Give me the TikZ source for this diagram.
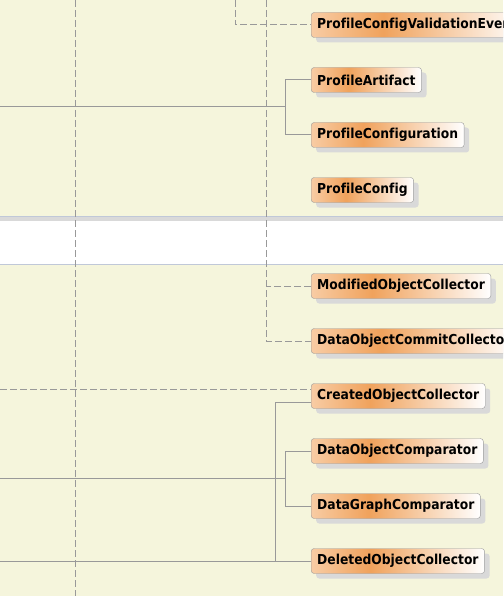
\documentclass[tikz,border=0pt]{standalone}
\usepackage{fontspec}
\setmainfont{DejaVu Sans Condensed}[Ligatures=NoCommon]
\usetikzlibrary{shadows}

\definecolor{paper}{RGB}{245,245,220}
\definecolor{rulecol}{RGB}{192,200,216}
\definecolor{linecol}{RGB}{153,153,153}
\definecolor{peach}{RGB}{248,204,164}
\definecolor{boxorange}{RGB}{240,162,92}
\pgfdeclarehorizontalshading{clsshade}{100bp}{color(0bp)=(peach); color(25bp)=(peach); color(42bp)=(boxorange); color(75bp)=(white); color(100bp)=(white)}

\tikzset{
    cls/.style={draw=linecol, rounded corners=3pt, shading=clsshade, anchor=west,
        minimum height=25pt, inner xsep=6pt, font=\bfseries\fontsize{13.7}{16}\selectfont,
        drop shadow={shadow xshift=5pt, shadow yshift=-5pt, fill=black!15, opacity=1}},
    link/.style={draw=linecol, line width=1pt},
    dep/.style={link, dash pattern=on 7pt off 3pt}
}

\begin{document}
\begin{tikzpicture}[x=1pt, y=-1pt]
    \clip (0,0) rectangle (503,596);
    \fill[paper] (0,0) rectangle (503,596);
    % band between the two groups
    \fill[white] (0,216) rectangle (503,264);
    \fill[black!15] (0,216) rectangle (503,221);
    \draw[rulecol] (0,216) -- (503,216) (0,264) -- (503,264);

    \foreach \n/\y/\t in {pcve/25/ProfileConfigValidationEvent, pa/80/ProfileArtifact,
        pcn/135/ProfileConfiguration, pc/190/ProfileConfig, moc/286/ModifiedObjectCollector,
        docc/341/DataObjectCommitCollector, coc/396/CreatedObjectCollector,
        doc/451/DataObjectComparator, dgc/506/DataGraphComparator, dlc/561/DeletedObjectCollector}
        \node[cls] (\n) at (311,\y) {\t};

    \coordinate (t1) at (235,0);
    \coordinate (t2) at (266,0);
    \coordinate (t3) at (75,0);
    \coordinate (b3) at (75,596);
    \coordinate (l1) at (0,107);
    \coordinate (j1) at (285,107);
    \coordinate (l2) at (0,389);
    \coordinate (l3) at (0,478);
    \coordinate (j3) at (285,478);
    \coordinate (l4) at (0,561);
    \coordinate (j4) at (275,561);

    \draw[dep] (t3) -- (b3);
    \draw[dep] (t1) |- (pcve.west);
    \draw[dep] (t2) |- (docc.west);
    \draw[dep] (moc.west) -- (moc.west -| t2);
    \draw[dep] (l2) -- (l2 -| coc.west);

    \draw[link] (l1) -- (j1);
    \draw[link] (pa.west) -| (j1);
    \draw[link] (pcn.west) -| (j1);

    \draw[link] (l3) -- (j3);
    \draw[link] (doc.west) -| (j3);
    \draw[link] (dgc.west) -| (j3);

    \draw[link] ([yshift=-6pt]coc.west) -| (j4);
    \draw[link] (l4) -- (dlc.west);
\end{tikzpicture}
\end{document}
